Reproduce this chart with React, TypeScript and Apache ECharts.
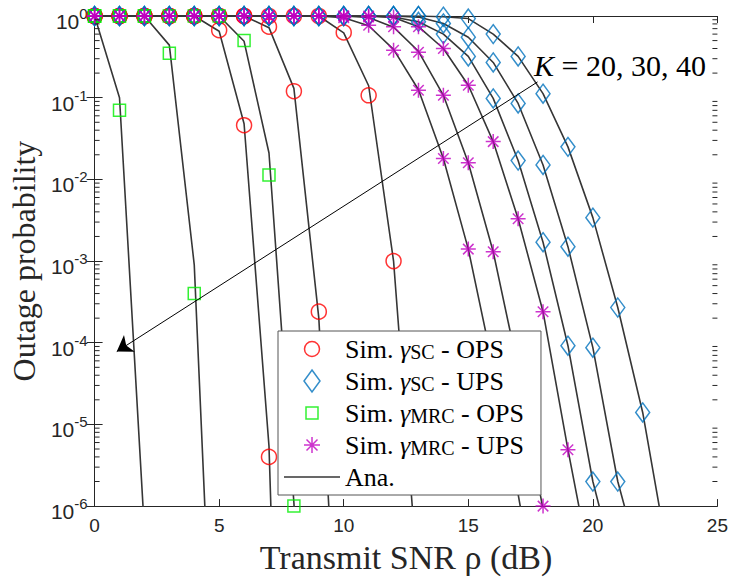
import React, { useEffect, useRef } from "react";
import * as echarts from "echarts";

// Transmit SNR grid (dB)
const SNR_DB = [0, 1, 2, 3, 4, 5, 6, 7, 8, 9, 10, 11, 12, 13, 14, 15, 16, 17, 18, 19, 20, 21, 22, 23, 24, 25];

// Analytical curves (values at SNR_DB[i])
const ANA_MRC_OPS_K20 = [1, 0.1, 5e-7];
const ANA_MRC_OPS_K30 = [1, 1, 1, 0.44, 9e-4, 1e-10];
const ANA_MRC_OPS_K40 = [1, 1, 1, 1, 1, 1, 0.49, 0.021, 1.1e-6, 1e-12];
const ANA_SC_OPS_K20 = [1, 1, 1, 1, 1, 0.65, 0.048, 5.4e-6, 1e-15];
const ANA_SC_OPS_K30 = [1, 1, 1, 1, 1, 1, 1, 0.72, 0.13, 2e-4, 3.5e-10];
const ANA_SC_OPS_K40 = [1, 1, 1, 1, 1, 1, 1, 1, 1, 1, 0.62, 0.14, 1.0e-3, 1e-7];
const ANA_MRC_UPS_K20 = [1, 1, 1, 1, 1, 1, 1, 1, 1, 1, 0.95, 0.76, 0.39, 0.125, 0.018, 0.0014, 5e-5, 1.4e-6, 2.5e-8];
const ANA_MRC_UPS_K30 = [1, 1, 1, 1, 1, 1, 1, 1, 1, 1, 1, 0.96, 0.73, 0.37, 0.107, 0.016, 0.0013, 4.8e-5, 9e-7, 1e-8];
const ANA_MRC_UPS_K40 = [1, 1, 1, 1, 1, 1, 1, 1, 1, 1, 1, 1, 0.96, 0.74, 0.4, 0.142, 0.029, 0.0033, 2.4e-4, 4.9e-6, 1.3e-7];
const ANA_SC_UPS_K20 = [1, 1, 1, 1, 1, 1, 1, 1, 1, 1, 1, 1, 0.97, 0.85, 0.6, 0.32, 0.098, 0.017, 0.0017, 9.2e-5, 2e-6, 1.3e-7];
const ANA_SC_UPS_K30 = [1, 1, 1, 1, 1, 1, 1, 1, 1, 1, 1, 1, 1, 0.97, 0.81, 0.55, 0.27, 0.085, 0.015, 0.0015, 8.7e-5, 2e-6, 1.5e-7];
const ANA_SC_UPS_K40 = [1, 1, 1, 1, 1, 1, 1, 1, 1, 1, 1, 1, 1, 1, 0.98, 0.93, 0.6, 0.32, 0.112, 0.025, 0.0034, 2.7e-4, 1.4e-5, 2.6e-7];

// Simulation markers (values at SNR_DB[i]; null = not visible)
const SIM_SC_OPS_K20 = [1, 1, 1, 1, 1, 0.67, 0.046, 4e-6];
const SIM_SC_OPS_K30 = [1, 1, 1, 1, 1, 1, 1, 0.74, 0.12, 2.4e-4];
const SIM_SC_OPS_K40 = [1, 1, 1, 1, 1, 1, 1, 1, 1, 1, 0.63, 0.107, 1.0e-3];
const SIM_MRC_OPS_K20 = [1, 0.07];
const SIM_MRC_OPS_K30 = [1, 1, 1, 0.35, 4e-4];
const SIM_MRC_OPS_K40 = [1, 1, 1, 1, 1, 1, 0.5, 0.0113, 1e-6];
const SIM_SC_UPS_K20 = [1, 1, 1, 1, 1, 1, 1, 1, 1, 1, 1, 1, 1, 0.85, 0.6, 0.32, 0.098, 0.017, 0.0017, 9.2e-5, 2e-6];
const SIM_SC_UPS_K30 = [1, 1, 1, 1, 1, 1, 1, 1, 1, 1, 1, 1, 1, 1, 0.81, 0.55, 0.27, 0.085, 0.015, 0.0015, 8.7e-5, 2e-6];
const SIM_SC_UPS_K40 = [1, 1, 1, 1, 1, 1, 1, 1, 1, 1, 1, 1, 1, 1, 0.98, 0.93, 0.6, 0.32, 0.112, 0.025, 0.0034, 2.7e-4, 1.4e-5];
const SIM_MRC_UPS_K20 = [1, 1, 1, 1, 1, 1, 1, 1, 1, 1, 0.95, 0.77, 0.38, 0.123, 0.018, 0.0014];
const SIM_MRC_UPS_K30 = [1, 1, 1, 1, 1, 1, 1, 1, 1, 1, 1, 0.97, 0.74, 0.36, 0.107, 0.016, 0.0013, null, 1e-6];
const SIM_MRC_UPS_K40 = [1, 1, 1, 1, 1, 1, 1, 1, 1, 1, 1, 1, 0.97, 0.74, 0.4, 0.142, 0.029, 0.0033, 2.4e-4, 4.9e-6];

const X_TICKS = [0, 5, 10, 15, 20, 25];
const Y_DECADES = [-6, -5, -4, -3, -2, -1, 0];
const MINOR_MULT = [2, 3, 4, 5, 6, 7, 8, 9];

const LEGEND_NAMES = ["Sim. γSC - OPS", "Sim. γSC - UPS", "Sim. γMRC - OPS", "Sim. γMRC - UPS", "Ana."];
const ARROW_FROM = [17.78, 0.156];
const ARROW_TO = [0.89, 7.8e-5];

const AXIS = "#262626";
const LINE = "#363636";
const SERIF = "'Liberation Serif', 'Times New Roman', serif";
const SANS = "'Liberation Sans', Arial, sans-serif";
const STAR = "path://M10,0L10,20M0,10L20,10M3,3L17,17M3,17L17,3";

// legend icons (22px box, padded with invisible corner points)
const PAD = "M0,0L0,0.01M22,22L22,21.99";
const ICON_CIRCLE = `path://${PAD}M3.5,11A7.5,7.5 0 1,0 18.5,11A7.5,7.5 0 1,0 3.5,11Z`;
const ICON_DIAMOND = "path://M8,0L16,11L8,22L0,11Z";
const ICON_SQUARE = `path://${PAD}M5,5L17,5L17,17L5,17Z`;
const ICON_STAR = `path://${PAD}M11,3L11,19M3,11L19,11M5.5,5.5L16.5,16.5M5.5,16.5L16.5,5.5`;
const ICON_LINE = "path://M0,0L56,0L56,1.6L0,1.6Z";

const toPairs = (arr: (number | null)[]) =>
  arr.map((v, i) => [SNR_DB[i], v]).filter((p) => p[1] !== null);

export default function App() {
  const ref = useRef<HTMLDivElement>(null);
  useEffect(() => {
    if (!ref.current) return;
    const chart = echarts.init(ref.current, null, { renderer: "svg" });
    const minorTicks: number[] = [];
    Y_DECADES.slice(0, -1).forEach((d) => MINOR_MULT.forEach((m) => minorTicks.push(m * Math.pow(10, d))));

    const anaCurves = [
      ANA_SC_OPS_K20, ANA_SC_OPS_K30, ANA_SC_OPS_K40,
      ANA_SC_UPS_K20, ANA_SC_UPS_K30, ANA_SC_UPS_K40,
      ANA_MRC_OPS_K20, ANA_MRC_OPS_K30, ANA_MRC_OPS_K40,
      ANA_MRC_UPS_K20, ANA_MRC_UPS_K30, ANA_MRC_UPS_K40,
    ];
    const lineSeries = anaCurves.map((c, i) => ({
      type: "line",
      name: "Ana.",
      data: toPairs(c),
      symbol: "none",
      showSymbol: false,
      clip: true,
      z: 2,
      lineStyle: { color: LINE, width: 1.6 },
      itemStyle: { color: LINE },
      ...(i === 0
        ? {
            markLine: {
              silent: true,
              symbol: ["none", "arrow"],
              symbolSize: 15,
              label: { show: false },
              lineStyle: { color: "#000", width: 1, type: "solid" },
              data: [[{ coord: ARROW_FROM }, { coord: ARROW_TO }]],
            },
          }
        : {}),
    }));

    const scatter = (name: string, arrs: (number | null)[][], symbol: string, size: any, color: string) => ({
      type: "scatter",
      name,
      data: arrs.flatMap((a) => toPairs(a)),
      symbol,
      symbolSize: size,
      clip: false,
      z: 3,
      itemStyle: { color: "rgba(0,0,0,0)", borderColor: color, borderWidth: 1.5 },
    });

    const icons = [ICON_CIRCLE, ICON_DIAMOND, ICON_SQUARE, ICON_STAR, ICON_LINE];
    const legendData = LEGEND_NAMES.map((n, i) =>
      n === "Ana."
        ? { name: n, icon: icons[i], itemStyle: { color: LINE, borderWidth: 0 } }
        : { name: n, icon: icons[i] }
    );

    const option: any = {
      animation: false,
      backgroundColor: "#fff",
      grid: { left: 91, top: 16, width: 627, height: 491, containLabel: false },
      xAxis: [
        {
          type: "value",
          min: 0,
          max: 25,
          interval: 5,
          position: "bottom",
          name: "Transmit SNR ρ (dB)",
          nameLocation: "middle",
          nameGap: 32,
          nameTextStyle: { fontFamily: SERIF, fontSize: 34, color: AXIS },
          axisLine: { show: true, lineStyle: { color: AXIS, width: 1 } },
          axisTick: { show: true, inside: true, length: 7, lineStyle: { color: AXIS } },
          axisLabel: {
            fontFamily: SANS,
            fontSize: 19,
            color: AXIS,
            margin: 10,
            formatter: (v: number) => (X_TICKS.includes(v) ? String(v) : ""),
          },
          splitLine: { show: false },
        },
        {
          type: "value",
          min: 0,
          max: 25,
          interval: 5,
          position: "top",
          axisLine: { show: true, lineStyle: { color: AXIS, width: 1 } },
          axisTick: { show: true, inside: true, length: 7, lineStyle: { color: AXIS } },
          axisLabel: { show: false },
          splitLine: { show: false },
        },
      ],
      yAxis: [
        {
          type: "log",
          logBase: 10,
          min: 1e-6,
          max: 1,
          splitNumber: 6,
          position: "left",
          name: "Outage probability",
          nameLocation: "middle",
          nameGap: 43,
          nameTextStyle: { fontFamily: SERIF, fontSize: 32, color: AXIS },
          axisLine: { show: true, lineStyle: { color: AXIS, width: 1 } },
          axisTick: { show: true, inside: true, length: 8, lineStyle: { color: AXIS } },
          axisLabel: {
            color: AXIS,
            fontFamily: SANS,
            fontSize: 21,
            margin: 7,
            padding: [6, 0, 0, 0],
            formatter: (v: number) => `{b|10}{s|${Math.round(Math.log10(v))}}`,
            rich: {
              b: { fontFamily: SANS, fontSize: 21, lineHeight: 26, verticalAlign: "bottom", color: AXIS },
              s: { fontFamily: SANS, fontSize: 15, lineHeight: 15, verticalAlign: "top", color: AXIS },
            },
          },
          splitLine: { show: false },
        },
        {
          type: "log",
          logBase: 10,
          min: 1e-6,
          max: 1,
          splitNumber: 6,
          position: "right",
          axisLine: { show: true, lineStyle: { color: AXIS, width: 1 } },
          axisTick: { show: true, inside: true, length: 8, lineStyle: { color: AXIS } },
          axisLabel: { show: false },
          splitLine: { show: false },
        },
      ],
      legend: {
        show: true,
        orient: "vertical",
        left: 278,
        top: 331,
        itemWidth: 56,
        itemHeight: 22,
        itemGap: 6,
        padding: [5, 17, 5, 6],
        backgroundColor: "#fff",
        borderColor: "#555",
        borderWidth: 1,
        selectedMode: false,
        symbolKeepAspect: true,
        data: legendData,
        itemStyle: { borderWidth: 1.5 },
        formatter: (name: string) => {
          const m = name.match(/^(Sim\. )γ(\w+)( - \w+)$/);
          if (!m) return `{n|${name}}`;
          return `{n|${m[1]}}{g|γ}{s|${m[2]}}{n|${m[3]}}`;
        },
        textStyle: {
          color: "#000",
          fontFamily: SERIF,
          fontSize: 26,
          rich: {
            n: { fontFamily: SERIF, fontSize: 26, lineHeight: 25, color: "#000" },
            g: { fontFamily: SERIF, fontSize: 26, lineHeight: 25, fontStyle: "italic", color: "#000" },
            s: { fontFamily: SERIF, fontSize: 20, lineHeight: 15, verticalAlign: "bottom", color: "#000" },
          },
        },
      },
      graphic: [
        {
          type: "text",
          x: 534,
          y: 65,
          style: {
            text: `{i|K} = 20, 30, 40`,
            fontFamily: SERIF,
            fontSize: 30,
            fill: "#000",
            verticalAlign: "middle",
            rich: {
              i: { fontFamily: SERIF, fontSize: 30, fontStyle: "italic", fill: "#000" },
            },
          },
        },
      ],
      series: [
        ...lineSeries,
        scatter("Sim. γSC - OPS", [SIM_SC_OPS_K20, SIM_SC_OPS_K30, SIM_SC_OPS_K40], "circle", 15, "#ff0000"),
        scatter("Sim. γSC - UPS", [SIM_SC_UPS_K20, SIM_SC_UPS_K30, SIM_SC_UPS_K40], "diamond", [14, 19], "#0072bd"),
        scatter("Sim. γMRC - OPS", [SIM_MRC_OPS_K20, SIM_MRC_OPS_K30, SIM_MRC_OPS_K40], "rect", 12, "#00ee00"),
        scatter("Sim. γMRC - UPS", [SIM_MRC_UPS_K20, SIM_MRC_UPS_K30, SIM_MRC_UPS_K40], STAR, 15, "#c000c0"),
        {
          type: "custom",
          name: "minorTicks",
          silent: true,
          clip: false,
          z: 5,
          data: minorTicks.map((v) => [0, v]),
          renderItem: (params: any, api: any) => {
            const v = api.value(1);
            const l = api.coord([0, v]);
            const r = api.coord([25, v]);
            return {
              type: "group",
              children: [
                { type: "line", shape: { x1: l[0], y1: l[1], x2: l[0] + 5, y2: l[1] }, style: { stroke: AXIS, lineWidth: 1 } },
                { type: "line", shape: { x1: r[0] - 5, y1: r[1], x2: r[0], y2: r[1] }, style: { stroke: AXIS, lineWidth: 1 } },
              ],
            };
          },
        },
      ],
    };
    chart.setOption(option);
    return () => chart.dispose();
  }, []);
  return (
    <div
      ref={ref}
      style={{ position: "absolute", left: 0, top: 0, width: 731, height: 579, background: "#fff" }}
    />
  );
}
